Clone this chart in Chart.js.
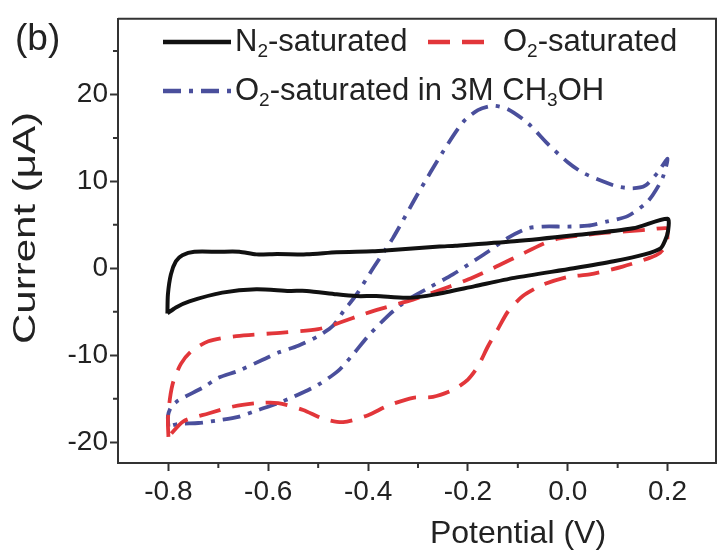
<!DOCTYPE html>
<html>
<head>
<meta charset="utf-8">
<script src="https://cdn.jsdelivr.net/npm/chart.js@4.4.1/dist/chart.umd.min.js"></script>
<style>
  body { margin: 0; background: #fff; }
  #cv { display: block; }
</style>
</head>
<body>
<canvas id="cv" width="718" height="553"></canvas>
<script>
// N2-saturated loop (potential in V, current in uA)
var n2Potential = [-0.802, -0.801, -0.795, -0.785, -0.772, -0.748, -0.70, -0.658, -0.624, -0.582, -0.523, -0.463, -0.391, -0.352, -0.257, -0.225, -0.107, 0.012, 0.131, 0.2,
  0.201, 0.195, 0.186, 0.154, 0.092, 0.012, -0.107, -0.186, -0.265, -0.321, -0.384, -0.423, -0.463, -0.523, -0.558, -0.624, -0.692, -0.758, -0.785, -0.802];
var n2Current = [-5.2, -3.0, -0.7, 0.8, 1.5, 1.9, 1.9, 1.9, 1.6, 1.65, 1.6, 1.85, 1.95, 2.1, 2.5, 2.6, 3.1, 3.8, 4.6, 5.7,
  4.3, 3.2, 2.3, 1.6, 0.8, 0.0, -1.1, -2.05, -3.0, -3.4, -3.2, -3.2, -3.0, -2.6, -2.6, -2.4, -2.8, -3.8, -4.5, -5.2];

// O2-saturated loop
var o2Potential = [-0.8, -0.801, -0.797, -0.79, -0.775, -0.755, -0.72, -0.664, -0.571, -0.5, -0.464, -0.42, -0.377, -0.31, -0.27, -0.2, -0.15, -0.1, -0.05, -0.02, 0.03, 0.08, 0.13, 0.17, 0.2,
  0.2, 0.198, 0.185, 0.164, 0.11, 0.044, 0.0, -0.05, -0.09, -0.12, -0.14, -0.16, -0.18, -0.2, -0.23, -0.27, -0.31, -0.36, -0.40, -0.45, -0.49, -0.53, -0.58, -0.62, -0.67, -0.72, -0.77, -0.8];
var o2Current = [-19.4, -17.5, -15, -13, -11, -9.6, -8.4, -7.8, -7.4, -7.0, -6.4, -5.5, -4.7, -3.6, -2.8, -1.3, 0.0, 1.4, 2.8, 3.4, 3.8, 4.1, 4.3, 4.5, 4.6,
  4.0, 2.7, 1.8, 1.2, 0.2, -0.7, -1.0, -1.9, -3.2, -5.0, -7.0, -9.0, -11.3, -12.8, -14.0, -14.8, -14.9, -15.8, -16.9, -17.7, -17.3, -16.3, -15.5, -15.5, -15.9, -16.7, -17.6, -19.4];

// O2-saturated in 3M CH3OH loop
var meohPotential = [-0.8, -0.801, -0.795, -0.78, -0.73, -0.7, -0.66, -0.61, -0.58, -0.54, -0.5, -0.47, -0.45, -0.423, -0.39, -0.35, -0.3, -0.25, -0.21, -0.18, -0.15, -0.12, -0.08, -0.04, 0.0, 0.03, 0.07, 0.1, 0.13, 0.155, 0.18, 0.2,
  0.19, 0.17, 0.155, 0.12, 0.08, 0.04, 0.0, -0.05, -0.08, -0.12, -0.16, -0.2, -0.23, -0.28, -0.32, -0.357, -0.40, -0.43, -0.46, -0.50, -0.55, -0.58, -0.62, -0.66, -0.70, -0.74, -0.78, -0.8];
var meohCurrent = [-18.2, -17, -16, -15.2, -13.7, -12.6, -11.8, -10.5, -9.7, -8.9, -7.8, -6.6, -5.0, -3.0, 0.0, 3.5, 8.6, 13.4, 16.8, 18.2, 18.7, 18.3, 16.7, 14.3, 12.2, 11.0, 10.0, 9.4, 9.2, 9.5, 11.0, 12.6,
  10.4, 8.4, 7.4, 6.0, 5.4, 4.9, 4.8, 4.8, 4.6, 3.5, 1.9, 0.4, -0.7, -2.3, -3.6, -5.3, -7.8, -9.9, -11.8, -13.4, -14.8, -15.5, -16.3, -17.1, -17.5, -17.8, -17.9, -18.2];

var seriesLabels = ['N\u2082-saturated', 'O\u2082-saturated', 'O\u2082-saturated in 3M CH\u2083OH'];
var seriesColors = ['#111111', '#e2363a', '#4a4f9c'];
var seriesDash = [[], [22, 12], [18, 8, 4, 8]];

var xMinorTicks = [-0.7, -0.5, -0.3, -0.1, 0.1];
var yMinorTicks = [-15, -5, 5, 15, 25];

var xTitle = 'Potential (V)';
var yTitle = 'Current (\u03bcA)';

var fontFamily = '"Liberation Sans", Arial, sans-serif';

function toPoints(xs, ys) {
  return xs.map(function(x, i) { return {x: x, y: ys[i]}; });
}

// draw text where subscript digits are drawn small and lowered
function drawRich(ctx, text, x, y, size) {
  var subs = {'\u2082': '2', '\u2083': '3'};
  for (var i = 0; i < text.length; i++) {
    var ch = text[i];
    if (subs[ch]) {
      ctx.font = Math.round(size * 0.6) + 'px ' + fontFamily;
      ctx.fillText(subs[ch], x, y + size * 0.3);
      x += ctx.measureText(subs[ch]).width;
    } else {
      ctx.font = size + 'px ' + fontFamily;
      ctx.fillText(ch, x, y);
      x += ctx.measureText(ch).width;
    }
  }
}

var decorPlugin = {
  id: 'decor',
  afterDraw: function(chart) {
    var ctx = chart.ctx;
    var area = chart.chartArea;
    var xs = chart.scales.x, ys = chart.scales.y;
    ctx.save();
    // top and right frame
    ctx.strokeStyle = '#333';
    ctx.lineWidth = 2;
    ctx.beginPath();
    ctx.moveTo(area.left, area.top);
    ctx.lineTo(area.right, area.top);
    ctx.lineTo(area.right, area.bottom);
    ctx.stroke();
    // minor ticks
    ctx.beginPath();
    xMinorTicks.forEach(function(v) {
      var px = xs.getPixelForValue(v);
      ctx.moveTo(px, area.bottom);
      ctx.lineTo(px, area.bottom + 5);
    });
    yMinorTicks.forEach(function(v) {
      var py = ys.getPixelForValue(v);
      ctx.moveTo(area.left, py);
      ctx.lineTo(area.left - 5, py);
    });
    ctx.stroke();

    ctx.fillStyle = '#222';
    ctx.textBaseline = 'middle';

    // axis titles
    ctx.textAlign = 'center';
    ctx.font = '32px ' + fontFamily;
    ctx.fillText(xTitle, 518, 534);
    ctx.save();
    ctx.translate(26, 228);
    ctx.rotate(-Math.PI / 2);
    var w = ctx.measureText(yTitle).width;
    ctx.scale(232 / w, 1);
    ctx.fillText(yTitle, 0, 0);
    ctx.restore();
    ctx.textAlign = 'left';

    // panel letter
    ctx.font = '37px ' + fontFamily;
    ctx.fillText('(b)', 15, 40);

    // legend
    var items = [
      {x: 163, y: 42, textX: 235},
      {x: 428, y: 42, textX: 503},
      {x: 163, y: 91, textX: 235}
    ];
    items.forEach(function(it, i) {
      ctx.strokeStyle = seriesColors[i];
      ctx.lineWidth = 4.5;
      ctx.setLineDash(seriesDash[i]);
      ctx.beginPath();
      ctx.moveTo(it.x, it.y);
      ctx.lineTo(it.x + 68, it.y);
      ctx.stroke();
      ctx.setLineDash([]);
      ctx.fillStyle = '#222';
      drawRich(ctx, seriesLabels[i], it.textX, it.y, 31);
    });
    ctx.restore();
  }
};

var datasets = [
  toPoints(n2Potential, n2Current),
  toPoints(o2Potential, o2Current),
  toPoints(meohPotential, meohCurrent)
].map(function(pts, i) {
  return {
    label: seriesLabels[i],
    data: pts,
    showLine: true,
    borderColor: seriesColors[i],
    backgroundColor: seriesColors[i],
    borderWidth: i === 0 ? 4 : 3.8,
    borderDash: seriesDash[i],
    pointRadius: 0,
    tension: 0.25
  };
});

var ctx = document.getElementById('cv').getContext('2d');
var cvChart = new Chart(ctx, {
  type: 'scatter',
  data: { datasets: datasets },
  options: {
    responsive: false,
    animation: false,
    devicePixelRatio: 1,
    layout: { padding: { top: 16, right: 2, left: 0, bottom: 0 } },
    plugins: {
      legend: { display: false },
      tooltip: { enabled: false }
    },
    scales: {
      x: {
        type: 'linear',
        min: -0.901,
        max: 0.297,
        afterFit: function(scale) { scale.height = 90; },
        ticks: {
          stepSize: 0.2,
          includeBounds: false,
          color: '#222',
          padding: 4,
          maxRotation: 0,
          font: { family: fontFamily, size: 28 },
          callback: function(v) { return (Math.abs(v) < 1e-9 ? 0 : v).toFixed(1); }
        },
        grid: { drawOnChartArea: false, drawTicks: true, tickLength: 8, tickWidth: 2, tickColor: '#333' },
        border: { display: true, color: '#333', width: 2 },
        title: { display: false }
      },
      y: {
        type: 'linear',
        min: -22.4,
        max: 28.7,
        afterFit: function(scale) { scale.width = 118; },
        ticks: {
          stepSize: 10,
          includeBounds: false,
          color: '#222',
          padding: 2,
          font: { family: fontFamily, size: 28 }
        },
        grid: { drawOnChartArea: false, drawTicks: true, tickLength: 8, tickWidth: 2, tickColor: '#333' },
        border: { display: true, color: '#333', width: 2 },
        title: { display: false }
      }
    }
  },
  plugins: [decorPlugin]
});
</script>
</body>
</html>
